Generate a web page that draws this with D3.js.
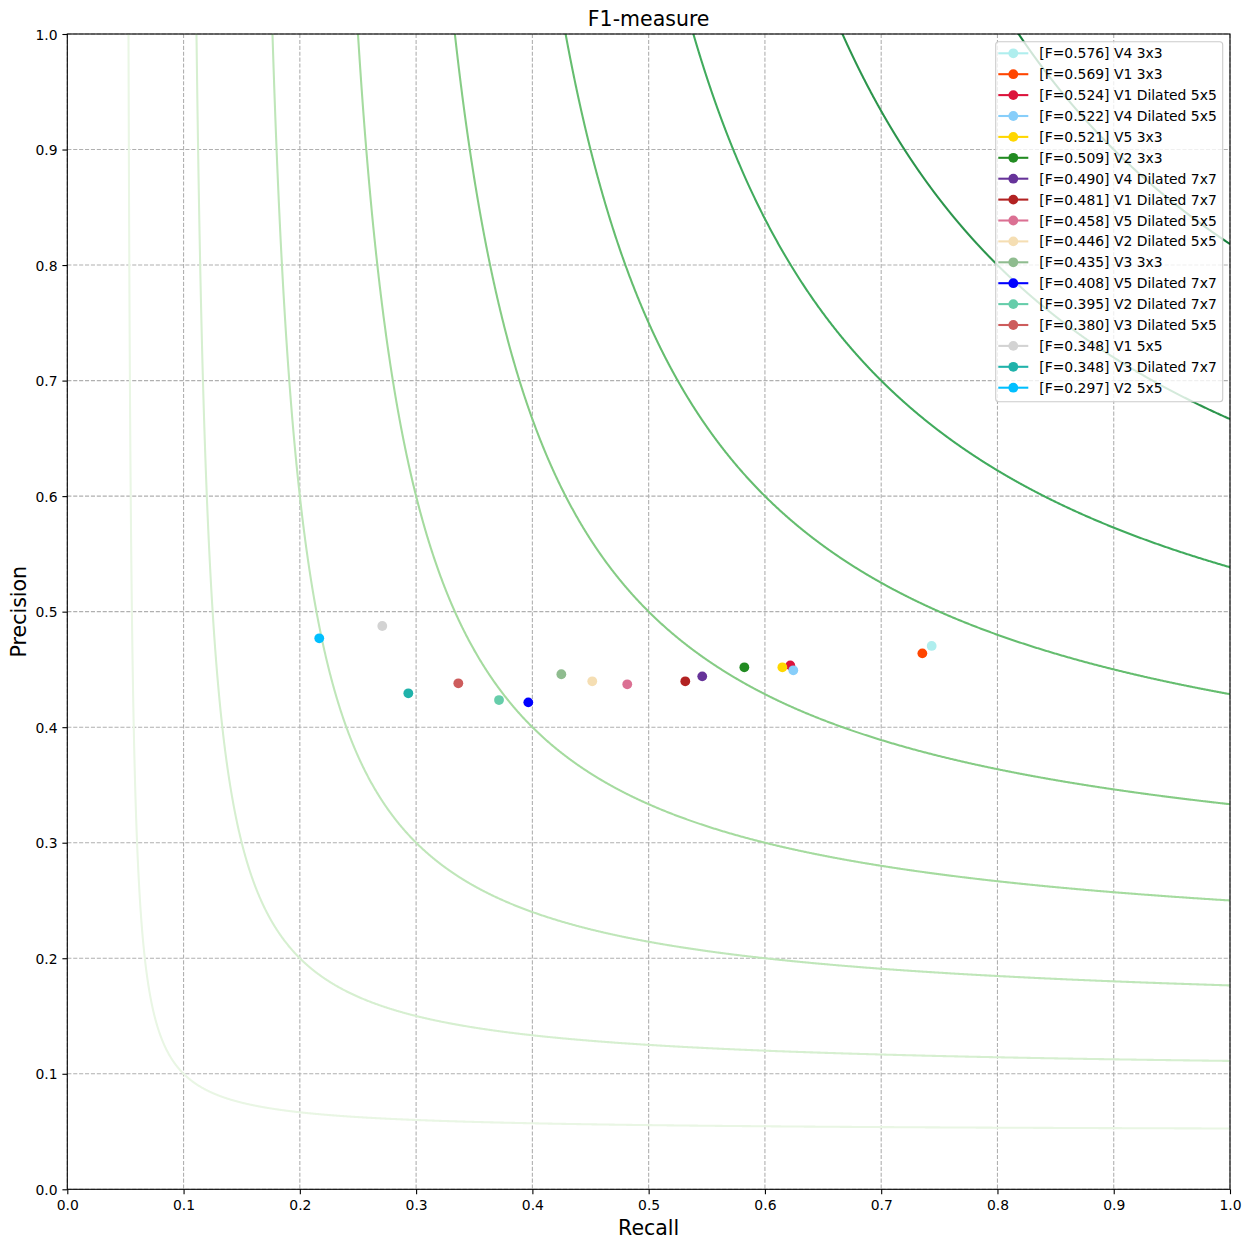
<!DOCTYPE html>
<html><head><meta charset="utf-8">
<script src="https://cdn.jsdelivr.net/npm/d3@7"></script>
<style>body{margin:0;background:#fff} text{font-family:"DejaVu Sans",sans-serif;fill:#000}</style>
</head><body><svg id="c" width="1250" height="1248"></svg>
<script>
// ---- data ----
const names = ["V4 3x3","V1 3x3","V1 Dilated 5x5","V4 Dilated 5x5","V5 3x3","V2 3x3","V4 Dilated 7x7","V1 Dilated 7x7","V5 Dilated 5x5","V2 Dilated 5x5","V3 3x3","V5 Dilated 7x7","V2 Dilated 7x7","V3 Dilated 5x5","V1 5x5","V3 Dilated 7x7","V2 5x5"];
const fLabels = ["0.576","0.569","0.524","0.522","0.521","0.509","0.490","0.481","0.458","0.446","0.435","0.408","0.395","0.380","0.348","0.348","0.297"];
const recall = [0.7434,0.7354,0.6218,0.6244,0.6150,0.5823,0.5461,0.5315,0.4816,0.4515,0.4249,0.3965,0.3713,0.3363,0.2709,0.2933,0.2167];
const precision = [0.4703,0.4639,0.4535,0.4492,0.4518,0.4518,0.4440,0.4397,0.4371,0.4397,0.4458,0.4215,0.4235,0.4380,0.4876,0.4293,0.4769];
const pointColors = ["paleturquoise","orangered","crimson","lightskyblue","gold","forestgreen","rebeccapurple","firebrick","palevioletred","wheat","darkseagreen","blue","mediumaquamarine","indianred","lightgray","lightseagreen","deepskyblue"];
const isoF = [0.1,0.2,0.3,0.4,0.5,0.6,0.7,0.8,0.9];
const tickValues = [0,0.1,0.2,0.3,0.4,0.5,0.6,0.7,0.8,0.9,1.0];
const greensStops = ["#f7fcf5","#e5f5e0","#c7e9c0","#a1d99b","#74c476","#41ab5d","#238b45","#006d2c","#00441b"];

// ---- layout ----
const L = 67.3, R = 1230, T = 34, B = 1189.3;
const svg = d3.select("#c");
const x = d3.scaleLinear().domain([0,1]).range([L,R]);
const y = d3.scaleLinear().domain([0,1]).range([B,T]);
const greens = d3.scaleLinear().domain(greensStops.map((d,i)=>i/(greensStops.length-1))).range(greensStops).interpolate(d3.interpolateRgb);
const curveT = d3.scaleLinear().domain([0,isoF.length-1]).range([0.1,0.8]);

svg.append("defs").append("clipPath").attr("id","clip")
  .append("rect").attr("x",L).attr("y",T).attr("width",R-L).attr("height",B-T);

// grid
const grid = svg.append("g");
grid.selectAll("line.gx").data(tickValues).join("line")
  .attr("x1",d=>x(d)).attr("x2",d=>x(d)).attr("y1",T).attr("y2",B)
  .attr("stroke","#b0b0b0").attr("stroke-width",1.1).attr("stroke-dasharray","4.1,1.8");
grid.selectAll("line.gy").data(tickValues).join("line").attr("class","gy")
  .attr("y1",d=>y(d)).attr("y2",d=>y(d)).attr("x1",L).attr("x2",R)
  .attr("stroke","#b0b0b0").attr("stroke-width",1.1).attr("stroke-dasharray","4.1,1.8");

// iso-F curves
const curves = svg.append("g").attr("clip-path","url(#clip)");
const line = d3.line().x(d=>x(d[0])).y(d=>y(d[1]));
isoF.forEach((f,i)=>{
  const r0 = f/(2-f);
  const n = 1500;
  const pts = d3.range(n+1).map(k=>{
    const r = r0 + (1-r0)*Math.pow(k/n,2);
    return [r, f*r/(2*r-f)];
  });
  curves.append("path").attr("d",line(pts)).attr("fill","none")
    .attr("stroke",greens(curveT(i))).attr("stroke-width",2.08);
});

// points
svg.append("g").attr("clip-path","url(#clip)").selectAll("circle").data(recall).join("circle")
  .attr("cx",(d)=>x(d)).attr("cy",(d,i)=>y(precision[i])).attr("r",4.9)
  .attr("fill",(d,i)=>pointColors[i]);

// axes frame
svg.append("rect").attr("x",L).attr("y",T).attr("width",R-L).attr("height",B-T)
  .attr("fill","none").attr("stroke","#000").attr("stroke-width",1.1);

const fmt = d3.format(".1f");
const xAxis = svg.append("g").attr("transform",`translate(0,${B})`)
  .call(d3.axisBottom(x).tickValues(tickValues).tickFormat(fmt).tickSize(4.9).tickPadding(4.9));
const yAxis = svg.append("g").attr("transform",`translate(${L},0)`)
  .call(d3.axisLeft(y).tickValues(tickValues).tickFormat(fmt).tickSize(4.9).tickPadding(4.9));
[xAxis,yAxis].forEach(a=>{
  a.select(".domain").remove();
  a.selectAll(".tick line").attr("stroke","#000").attr("stroke-width",1.1);
  a.selectAll(".tick text").attr("font-size","13.9px").attr("font-family","DejaVu Sans").attr("fill","#000");
});
xAxis.selectAll(".tick text").attr("dy",null).attr("y",21.2);
yAxis.selectAll(".tick text").attr("dy","0.36em");

// title & labels
svg.append("text").attr("x",(L+R)/2).attr("y",26).attr("text-anchor","middle")
  .attr("font-size","20.5px").text("F1-measure");
svg.append("text").attr("x",(L+R)/2).attr("y",1235).attr("text-anchor","middle")
  .attr("font-size","20.5px").text("Recall");
svg.append("text").attr("transform",`translate(26,${(T+B)/2}) rotate(-90)`).attr("text-anchor","middle")
  .attr("font-size","20.5px").text("Precision");

// legend
const lg = svg.append("g");
lg.append("rect").attr("x",995.7).attr("y",41.7).attr("width",227).attr("height",360)
  .attr("rx",3).attr("fill","#fff").attr("fill-opacity",0.8).attr("stroke","#cccccc").attr("stroke-width",1.1);
const rowH = 20.9, row0 = 53.3;
const rows = lg.selectAll("g.row").data(names).join("g").attr("class","row")
  .attr("transform",(d,i)=>`translate(0,${row0+i*rowH})`);
rows.append("line").attr("x1",998.3).attr("x2",1028.3).attr("y1",0).attr("y2",0)
  .attr("stroke",(d,i)=>pointColors[i]).attr("stroke-width",2.08);
rows.append("circle").attr("cx",1013.3).attr("cy",0).attr("r",4.9).attr("fill",(d,i)=>pointColors[i]);
rows.append("text").attr("x",1039.3).attr("y",0).attr("dy","0.36em").attr("font-size","13.9px")
  .text((d,i)=>`[F=${fLabels[i]}] ${d}`);
</script></body></html>
